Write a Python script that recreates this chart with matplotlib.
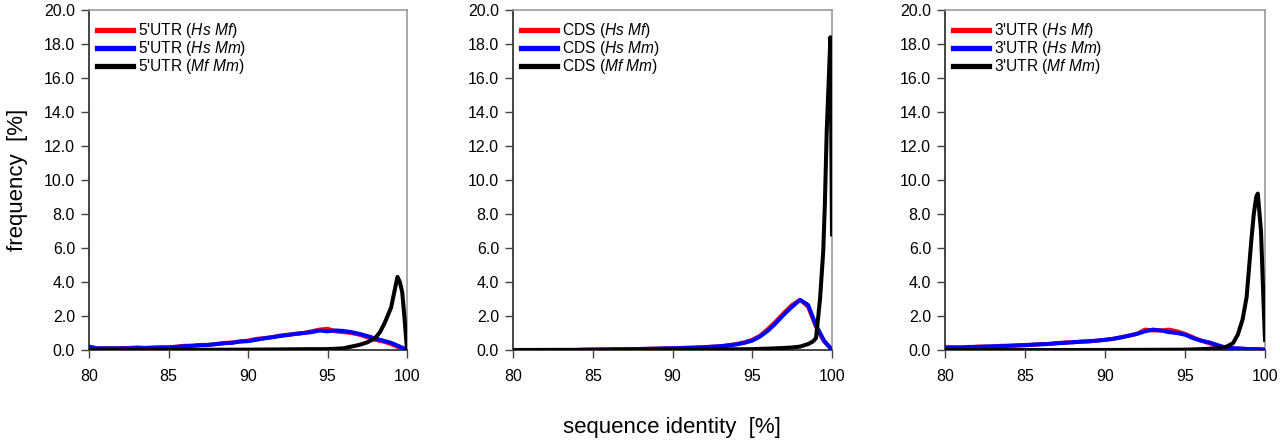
import numpy as np
import matplotlib
matplotlib.use("Agg")
import matplotlib.pyplot as plt

plt.rcParams['font.family'] = ['Liberation Sans', 'DejaVu Sans']
plt.rcParams['mathtext.fontset'] = 'custom'
plt.rcParams['mathtext.rm'] = 'Liberation Sans'
plt.rcParams['mathtext.it'] = 'Liberation Sans:italic'

# ---------------- data ----------------
x_grid = [80 + 0.5 * i for i in range(41)]

utr5_hs_mf = [0.15, 0.10, 0.10, 0.10, 0.10, 0.12, 0.15, 0.12, 0.15, 0.15,
              0.15, 0.20, 0.25, 0.25, 0.30, 0.30, 0.35, 0.40, 0.45, 0.50,
              0.55, 0.65, 0.70, 0.75, 0.85, 0.90, 0.95, 1.00, 1.10, 1.20,
              1.25, 1.10, 1.05, 1.00, 0.90, 0.75, 0.60, 0.50, 0.35, 0.15, 0.05]
utr5_hs_mm = [0.20, 0.10, 0.10, 0.10, 0.10, 0.10, 0.12, 0.12, 0.12, 0.15,
              0.15, 0.18, 0.22, 0.25, 0.28, 0.30, 0.35, 0.40, 0.42, 0.50,
              0.52, 0.60, 0.68, 0.75, 0.82, 0.88, 0.95, 1.00, 1.05, 1.15,
              1.10, 1.15, 1.12, 1.05, 0.95, 0.82, 0.68, 0.55, 0.42, 0.22, 0.00]
utr5_mf_mm_x = [80, 90, 94, 95, 96, 96.5, 97, 97.5, 98, 98.3, 98.6, 99.0,
                99.2, 99.4, 99.55, 99.7, 99.85, 100]
utr5_mf_mm = [0.0, 0.02, 0.05, 0.05, 0.10, 0.20, 0.30, 0.45, 0.70, 1.05, 1.60, 2.50,
              3.40, 4.30, 4.00, 3.40, 1.80, 0.0]

cds_hs_mf = [0.0, 0.0, 0.0, 0.0, 0.0, 0.0, 0.0, 0.0, 0.0, 0.02,
             0.02, 0.03, 0.03, 0.04, 0.05, 0.05, 0.06, 0.07, 0.08, 0.10,
             0.10, 0.12, 0.13, 0.15, 0.17, 0.20, 0.22, 0.28, 0.35, 0.45,
             0.60, 0.85, 1.25, 1.70, 2.20, 2.65, 2.95, 2.55, 1.35, 0.50, 0.05]
cds_hs_mm = [0.0, 0.0, 0.0, 0.0, 0.0, 0.0, 0.0, 0.0, 0.0, 0.01,
             0.02, 0.02, 0.03, 0.04, 0.04, 0.05, 0.06, 0.07, 0.08, 0.09,
             0.10, 0.11, 0.13, 0.14, 0.16, 0.19, 0.22, 0.27, 0.33, 0.42,
             0.55, 0.80, 1.15, 1.60, 2.10, 2.55, 2.95, 2.65, 1.45, 0.55, 0.00]
cds_mf_mm_x = [80, 90, 95, 96, 97, 97.5, 98, 98.5, 98.8, 99.0, 99.25, 99.45,
               99.55, 99.67, 99.8, 99.9, 99.95, 100]
cds_mf_mm = [0.0, 0.02, 0.05, 0.08, 0.12, 0.15, 0.20, 0.35, 0.50, 0.70, 3.00, 5.80,
             8.50, 12.90, 16.00, 18.40, 13.30, 6.80]

utr3_hs_mf = [0.15, 0.15, 0.15, 0.15, 0.20, 0.20, 0.20, 0.25, 0.25, 0.25,
              0.30, 0.30, 0.35, 0.35, 0.40, 0.45, 0.45, 0.50, 0.50, 0.55,
              0.60, 0.65, 0.75, 0.85, 0.95, 1.20, 1.15, 1.15, 1.20, 1.10,
              0.95, 0.75, 0.55, 0.40, 0.25, 0.15, 0.10, 0.08, 0.05, 0.05, 0.03]
utr3_hs_mm = [0.15, 0.15, 0.15, 0.18, 0.18, 0.20, 0.22, 0.22, 0.25, 0.28,
              0.28, 0.32, 0.33, 0.36, 0.40, 0.42, 0.46, 0.48, 0.52, 0.55,
              0.60, 0.66, 0.74, 0.84, 0.95, 1.10, 1.20, 1.15, 1.05, 1.00,
              0.90, 0.70, 0.55, 0.45, 0.30, 0.15, 0.10, 0.08, 0.05, 0.05, 0.02]
utr3_mf_mm_x = [80, 90, 95, 96, 97, 97.5, 98, 98.3, 98.6, 98.85, 99.0, 99.15,
                99.3, 99.45, 99.55, 99.75, 99.9, 100]
utr3_mf_mm = [0.0, 0.0, 0.02, 0.05, 0.10, 0.15, 0.40, 0.90, 1.80, 3.10, 4.80, 6.50,
              8.00, 9.00, 9.20, 7.00, 3.00, 0.60]

panel_names = ["5'UTR", "CDS", "3'UTR"]
pair_labels = [r"$\it{Hs\ Mf}$", r"$\it{Hs\ Mm}$", r"$\it{Mf\ Mm}$"]
series = [
    (utr5_hs_mf, utr5_hs_mm, utr5_mf_mm_x, utr5_mf_mm),
    (cds_hs_mf, cds_hs_mm, cds_mf_mm_x, cds_mf_mm),
    (utr3_hs_mf, utr3_hs_mm, utr3_mf_mm_x, utr3_mf_mm),
]
x_ticks = [80, 85, 90, 95, 100]
y_ticks = [0, 2, 4, 6, 8, 10, 12, 14, 16, 18, 20]

# ---------------- figure ----------------
fig = plt.figure(figsize=(12.8, 4.43), dpi=100)
W, H = 1280, 443
lefts = [89, 513, 945]
widths = [318, 319, 320]
top_px, bot_px = 10, 350

for i, (name, (r, b, kx, k)) in enumerate(zip(panel_names, series)):
    ax = fig.add_axes([lefts[i] / W, 1 - bot_px / H, widths[i] / W, (bot_px - top_px) / H])
    ax.plot(x_grid, r, color='#ff0000', lw=2.9, label=f"{name} ({pair_labels[0]})", zorder=2)
    ax.plot(x_grid, b, color='#0000ff', lw=2.9, label=f"{name} ({pair_labels[1]})", zorder=3)
    ax.plot(kx, k, color='black', lw=2.9, label=f"{name} ({pair_labels[2]})", zorder=4)
    ax.set_xlim(80, 100)
    ax.set_ylim(0, 20)
    ax.set_xticks(x_ticks)
    ax.set_yticks(y_ticks)
    ax.set_yticklabels([f"{v:.1f}" for v in y_ticks])
    ax.tick_params(axis='both', direction='out', labelsize=11.5, colors='#444444',
                   labelcolor='black', width=1.0)
    ax.tick_params(axis='y', length=6, pad=4)
    ax.tick_params(axis='x', length=6, pad=8)
    for s in ['left', 'bottom']:
        ax.spines[s].set_color('#444444')
        ax.spines[s].set_linewidth(1.4)
    for s in ['top', 'right']:
        ax.spines[s].set_color('#999999')
        ax.spines[s].set_linewidth(1.2)
    leg = ax.legend(loc='upper left', bbox_to_anchor=(0.0, 0.99), frameon=False,
                    fontsize=11.2, handlelength=2.3, handletextpad=0.35,
                    labelspacing=-0.07, borderaxespad=0.3, borderpad=0.2)
    for line in leg.get_lines():
        line.set_linewidth(3.8)

fig.text(18 / W, 1 - 180 / H, "frequency  [%]", rotation=90, ha='center', va='center',
         fontsize=16)
fig.text(672 / W, 1 - 427 / H, "sequence identity  [%]", ha='center', va='center',
         fontsize=16)

fig.savefig("out.png", dpi=100)
